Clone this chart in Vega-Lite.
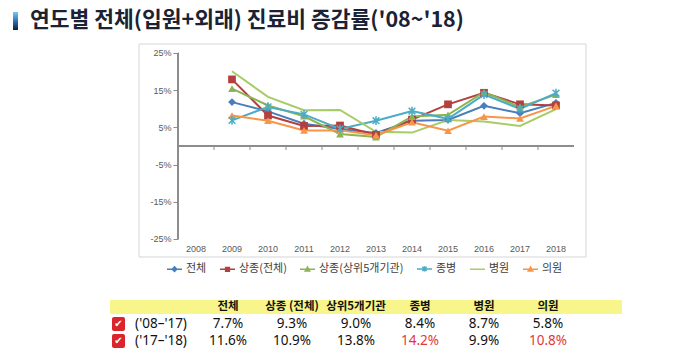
{
  "$schema": "https://vega.github.io/schema/vega-lite/v6.json",
  "width": 680,
  "height": 359,
  "autosize": "none",
  "padding": 0,
  "background": "white",
  "config": {
    "view": {"stroke": null},
    "font": "Noto Sans CJK KR",
    "axis": {"grid": false}
  },
  "resolve": {"scale": {"x": "independent", "y": "independent"}, "axis": {"x": "independent", "y": "independent"}},
  "layer": [
    {
      "data": {"values": [{"k": "header"}]},
      "mark": {"type": "rect", "color": "#f8f58a"},
      "encoding": {
        "x": {"field": "k", "type": "nominal", "axis": null, "scale": {"type": "band", "domain": ["header"], "paddingInner": 0, "paddingOuter": 0, "range": [110, 622]}},
        "y": {"field": "k", "type": "nominal", "axis": null, "scale": {"type": "band", "domain": ["header"], "paddingInner": 0, "paddingOuter": 0, "range": [300, 314]}}
      }
    },
    {
      "data": {"values": [{"k": "frame"}]},
      "mark": {"type": "rect", "filled": false, "color": "#d6d6d6", "strokeWidth": 1},
      "encoding": {
        "x": {"field": "k", "type": "nominal", "axis": null, "scale": {"type": "band", "domain": ["frame"], "paddingInner": 0, "paddingOuter": 0, "range": [139, 586]}},
        "y": {"field": "k", "type": "nominal", "axis": null, "scale": {"type": "band", "domain": ["frame"], "paddingInner": 0, "paddingOuter": 0, "range": [44, 257]}}
      }
    },
    {
      "data": {"values": [{"row": "('08–'17)"}, {"row": "('17–'18)"}]},
      "layer": [
        {
          "mark": {"type": "rect", "color": "#d9252b", "cornerRadius": 2},
          "encoding": {
            "x": {"datum": "icon", "type": "nominal", "axis": null, "scale": {"type": "band", "domain": ["icon"], "paddingInner": 0, "paddingOuter": 0, "range": [112, 125]}},
            "y": {"field": "row", "type": "nominal", "axis": null, "scale": {"type": "band", "domain": ["header", "('08–'17)", "('17–'18)"], "paddingInner": 0.18, "paddingOuter": 0, "range": [300, 347.9]}}
          }
        },
        {
          "mark": {"type": "text", "font": "DejaVu Sans", "fontSize": 10, "fontWeight": "bold", "color": "#ffffff", "text": "✔"},
          "encoding": {
            "x": {"datum": "icon", "type": "nominal", "axis": null},
            "y": {"field": "row", "type": "nominal", "axis": null}
          }
        }
      ]
    },
    {
      "data": {"values": [{"k": "bar", "title": "연도별 전체(입원+외래) 진료비 증감률('08~'18)"}]},
      "layer": [
        {
          "mark": {"type": "rect", "color": {"gradient": "linear", "x1": 0, "y1": 0, "x2": 0, "y2": 1, "stops": [{"offset": 0, "color": "#79c9f2"}, {"offset": 0.5, "color": "#2f73b5"}, {"offset": 1, "color": "#0c1d3e"}]}},
          "encoding": {
            "x": {"field": "k", "type": "nominal", "axis": null, "scale": {"type": "band", "domain": ["bar", "title"], "paddingInner": 0.70588, "paddingOuter": 0, "range": [13, 35]}},
            "y": {"field": "k", "type": "nominal", "axis": null, "scale": {"type": "band", "domain": ["bar"], "paddingInner": 0, "paddingOuter": 0, "range": [12, 30]}}
          }
        },
        {
          "mark": {"type": "text", "align": "left", "baseline": "middle", "font": "Noto Sans CJK KR", "fontSize": 21.5, "fontWeight": "bold", "color": "#1b2233"},
          "encoding": {
            "x": {"datum": "title", "type": "nominal", "bandPosition": 0, "axis": null},
            "y": {"datum": "bar", "type": "nominal", "axis": null},
            "text": {"field": "title"}
          }
        }
      ]
    },
    {
      "data": {"values": [
        {"year": "2009", "series": "전체", "value": 11.8},
        {"year": "2010", "series": "전체", "value": 9.3},
        {"year": "2011", "series": "전체", "value": 6.0},
        {"year": "2012", "series": "전체", "value": 4.6},
        {"year": "2013", "series": "전체", "value": 3.5},
        {"year": "2014", "series": "전체", "value": 6.8},
        {"year": "2015", "series": "전체", "value": 7.0},
        {"year": "2016", "series": "전체", "value": 10.8},
        {"year": "2017", "series": "전체", "value": 8.8},
        {"year": "2018", "series": "전체", "value": 11.6},
        {"year": "2009", "series": "상종(전체)", "value": 17.9},
        {"year": "2010", "series": "상종(전체)", "value": 8.2},
        {"year": "2011", "series": "상종(전체)", "value": 5.4},
        {"year": "2012", "series": "상종(전체)", "value": 5.5},
        {"year": "2013", "series": "상종(전체)", "value": 3.0},
        {"year": "2014", "series": "상종(전체)", "value": 7.1},
        {"year": "2015", "series": "상종(전체)", "value": 11.2},
        {"year": "2016", "series": "상종(전체)", "value": 14.3},
        {"year": "2017", "series": "상종(전체)", "value": 11.2},
        {"year": "2018", "series": "상종(전체)", "value": 10.9},
        {"year": "2009", "series": "상종(상위5개기관)", "value": 15.4},
        {"year": "2010", "series": "상종(상위5개기관)", "value": 10.9},
        {"year": "2011", "series": "상종(상위5개기관)", "value": 8.0},
        {"year": "2012", "series": "상종(상위5개기관)", "value": 3.2},
        {"year": "2013", "series": "상종(상위5개기관)", "value": 2.4},
        {"year": "2014", "series": "상종(상위5개기관)", "value": 7.9},
        {"year": "2015", "series": "상종(상위5개기관)", "value": 8.4},
        {"year": "2016", "series": "상종(상위5개기관)", "value": 14.5},
        {"year": "2017", "series": "상종(상위5개기관)", "value": 10.5},
        {"year": "2018", "series": "상종(상위5개기관)", "value": 13.8},
        {"year": "2009", "series": "종병", "value": 6.9},
        {"year": "2010", "series": "종병", "value": 10.5},
        {"year": "2011", "series": "종병", "value": 8.5},
        {"year": "2012", "series": "종병", "value": 4.6},
        {"year": "2013", "series": "종병", "value": 6.8},
        {"year": "2014", "series": "종병", "value": 9.4},
        {"year": "2015", "series": "종병", "value": 7.3},
        {"year": "2016", "series": "종병", "value": 13.8},
        {"year": "2017", "series": "종병", "value": 10.0},
        {"year": "2018", "series": "종병", "value": 14.2},
        {"year": "2009", "series": "병원", "value": 20.1},
        {"year": "2010", "series": "병원", "value": 13.2},
        {"year": "2011", "series": "병원", "value": 9.6},
        {"year": "2012", "series": "병원", "value": 9.7},
        {"year": "2013", "series": "병원", "value": 3.8},
        {"year": "2014", "series": "병원", "value": 3.6},
        {"year": "2015", "series": "병원", "value": 7.0},
        {"year": "2016", "series": "병원", "value": 6.6},
        {"year": "2017", "series": "병원", "value": 5.4},
        {"year": "2018", "series": "병원", "value": 9.9},
        {"year": "2009", "series": "의원", "value": 8.2},
        {"year": "2010", "series": "의원", "value": 6.8},
        {"year": "2011", "series": "의원", "value": 4.2},
        {"year": "2012", "series": "의원", "value": 4.2},
        {"year": "2013", "series": "의원", "value": 2.9},
        {"year": "2014", "series": "의원", "value": 6.4},
        {"year": "2015", "series": "의원", "value": 4.1},
        {"year": "2016", "series": "의원", "value": 7.9},
        {"year": "2017", "series": "의원", "value": 7.4},
        {"year": "2018", "series": "의원", "value": 10.8}
      ]},
      "layer": [
        {
          "mark": {"type": "line", "strokeWidth": 2},
          "encoding": {
            "x": {"field": "year", "type": "ordinal",
                  "scale": {"type": "band", "domain": ["2008","2009","2010","2011","2012","2013","2014","2015","2016","2017","2018"], "paddingInner": 0, "paddingOuter": 0, "range": [178, 574]},
                  "axis": {"title": null, "domain": false, "ticks": false, "labelAngle": 0, "labelFont": "Liberation Sans", "labelFontSize": 9, "labelColor": "#595959", "labelPadding": 1, "offset": -116}},
            "y": {"field": "value", "type": "quantitative",
                  "scale": {"domain": [-57.258, 39.247], "nice": false, "zero": false},
                  "axis": {"title": null, "domain": false, "ticks": true, "tickSize": 5, "tickColor": "#8c8c8c", "values": [-25, -15, -5, 5, 15, 25], "labelExpr": "datum.value + '%'", "labelFont": "Liberation Sans", "labelFontSize": 9, "labelColor": "#595959", "labelPadding": 2, "offset": -178}},
            "color": {"field": "series", "type": "nominal", "legend": null,
                      "scale": {"domain": ["의원","병원","종병","상종(상위5개기관)","상종(전체)","전체"], "range": ["#f79646","#a8cb66","#4bacc6","#8bb453","#b3403f","#4a7ebb"]}}
          }
        },
        {
          "mark": {"type": "rule", "color": "#8c8c8c", "strokeWidth": 1},
          "encoding": {
            "x": {"datum": "2008", "type": "ordinal", "bandPosition": 0},
            "y": {"datum": -25, "type": "quantitative"},
            "y2": {"datum": 25}
          }
        },
        {
          "mark": {"type": "rule", "color": "#8c8c8c", "strokeWidth": 1},
          "encoding": {
            "x": {"datum": "2008", "type": "ordinal", "bandPosition": 0},
            "x2": {"datum": "2018", "bandPosition": 1},
            "y": {"datum": 0, "type": "quantitative"}
          }
        },
        {
          "transform": [{"filter": "datum.series === '전체'"}],
          "mark": {"type": "rule", "color": "#8c8c8c", "strokeWidth": 1},
          "encoding": {
            "x": {"field": "year", "type": "ordinal", "bandPosition": 0},
            "y": {"datum": 0, "type": "quantitative"},
            "y2": {"datum": -1.1}
          }
        },
        {
          "transform": [{"filter": "datum.series !== '종병' && datum.series !== '병원'"}],
          "mark": {"type": "point", "filled": true, "opacity": 1, "size": 60},
          "encoding": {
            "x": {"field": "year", "type": "ordinal"},
            "y": {"field": "value", "type": "quantitative"},
            "color": {"field": "series", "type": "nominal", "legend": null},
            "shape": {"condition": [{"test": "datum.series === '전체'", "value": "diamond"}, {"test": "datum.series === '상종(전체)'", "value": "square"}], "value": "triangle-up"}
          }
        },
        {
          "transform": [{"filter": "datum.series === '종병'"}],
          "mark": {"type": "point", "filled": false, "opacity": 1, "size": 45, "strokeWidth": 1.5, "shape": "M-1,-1L1,1M-1,1L1,-1M0,-1.3V1.3"},
          "encoding": {
            "x": {"field": "year", "type": "ordinal"},
            "y": {"field": "value", "type": "quantitative"},
            "color": {"field": "series", "type": "nominal", "legend": null}
          }
        },
        {
          "transform": [{"filter": "datum.year === '2009'"}],
          "mark": {"type": "point", "filled": true, "opacity": 0},
          "encoding": {
            "x": {"field": "year", "type": "ordinal"},
            "y": {"field": "value", "type": "quantitative"},
            "shape": {"field": "series", "type": "nominal",
                      "scale": {"domain": ["전체","상종(전체)","상종(상위5개기관)","종병","병원","의원"],
                                "range": ["M-1,0H1M0,-0.3L0.3,0L0,0.3L-0.3,0Z", "M-1,0H1M-0.25,-0.25H0.25V0.25H-0.25Z", "M-1,0H1M0,-0.3L0.3,0.22H-0.3Z", "M-1,0H1M-0.28,-0.28L0.28,0.28M-0.28,0.28L0.28,-0.28M0,-0.36V0.36", "M-1,0H1", "M-1,0H1M0,-0.3L0.3,0.22H-0.3Z"]},
                      "legend": {"title": null, "orient": "none", "legendX": 166, "legendY": 260, "direction": "horizontal", "columns": 6, "columnPadding": 10, "symbolSize": 225, "symbolStrokeWidth": 1.5, "symbolOpacity": 1, "labelFont": "Noto Sans CJK KR", "labelFontSize": 11, "labelColor": "#404040", "labelOffset": 3}},
            "fill": {"field": "series", "type": "nominal",
                     "scale": {"domain": ["전체","상종(전체)","상종(상위5개기관)","종병","병원","의원"], "range": ["#4a7ebb","#b3403f","#8bb453","#4bacc6","#a8cb66","#f79646"]},
                     "legend": {"title": null, "orient": "none", "legendX": 166, "legendY": 260, "direction": "horizontal", "columns": 6, "columnPadding": 10, "symbolSize": 225, "symbolStrokeWidth": 1.5, "symbolOpacity": 1, "labelFont": "Noto Sans CJK KR", "labelFontSize": 11, "labelColor": "#404040", "labelOffset": 3}},
            "stroke": {"field": "series", "type": "nominal",
                       "scale": {"domain": ["전체","상종(전체)","상종(상위5개기관)","종병","병원","의원"], "range": ["#4a7ebb","#b3403f","#8bb453","#4bacc6","#a8cb66","#f79646"]},
                       "legend": {"title": null, "orient": "none", "legendX": 166, "legendY": 260, "direction": "horizontal", "columns": 6, "columnPadding": 10, "symbolSize": 225, "symbolStrokeWidth": 1.5, "symbolOpacity": 1, "labelFont": "Noto Sans CJK KR", "labelFontSize": 11, "labelColor": "#404040", "labelOffset": 3}}
          }
        }
      ]
    },
    {
      "layer": [
        {
          "data": {"values": [{"col": "전체"}, {"col": "상종 (전체)"}, {"col": "상위5개기관"}, {"col": "종병"}, {"col": "병원"}, {"col": "의원"}]},
          "mark": {"type": "text", "font": "Noto Sans CJK KR", "fontSize": 11.5, "fontWeight": "bold", "color": "#111111"},
          "encoding": {
            "x": {"field": "col", "type": "nominal", "axis": null,
                  "scale": {"type": "point", "domain": ["lbl", "전체", "상종 (전체)", "상위5개기관", "종병", "병원", "의원"], "padding": 0, "range": [164, 548]}},
            "y": {"datum": "header", "type": "nominal", "axis": null,
                  "scale": {"type": "band", "domain": ["header", "('08–'17)", "('17–'18)"], "paddingInner": 0.18, "paddingOuter": 0, "range": [300, 347.9]}},
            "text": {"field": "col"}
          }
        },
        {
          "data": {"values": [
            {"row": "('08–'17)", "col": "전체", "value": 0.077},
            {"row": "('08–'17)", "col": "상종 (전체)", "value": 0.093},
            {"row": "('08–'17)", "col": "상위5개기관", "value": 0.090},
            {"row": "('08–'17)", "col": "종병", "value": 0.084},
            {"row": "('08–'17)", "col": "병원", "value": 0.087},
            {"row": "('08–'17)", "col": "의원", "value": 0.058},
            {"row": "('17–'18)", "col": "전체", "value": 0.116},
            {"row": "('17–'18)", "col": "상종 (전체)", "value": 0.109},
            {"row": "('17–'18)", "col": "상위5개기관", "value": 0.138},
            {"row": "('17–'18)", "col": "종병", "value": 0.142},
            {"row": "('17–'18)", "col": "병원", "value": 0.099},
            {"row": "('17–'18)", "col": "의원", "value": 0.108}
          ]},
          "mark": {"type": "text", "font": "Noto Sans", "fontSize": 13.5},
          "encoding": {
            "x": {"field": "col", "type": "nominal", "axis": null},
            "y": {"field": "row", "type": "nominal", "axis": null},
            "text": {"field": "value", "type": "quantitative", "format": ".1%"},
            "color": {"condition": {"test": "datum.value === 0.142 || datum.value === 0.108", "value": "#e2383c"}, "value": "#111111"}
          }
        },
        {
          "data": {"values": [{"row": "('08–'17)"}, {"row": "('17–'18)"}]},
          "mark": {"type": "text", "font": "Noto Sans", "fontSize": 13.5, "color": "#111111", "dx": -3},
          "encoding": {
            "x": {"datum": "lbl", "type": "nominal", "axis": null},
            "y": {"field": "row", "type": "nominal", "axis": null},
            "text": {"field": "row"}
          }
        }
      ]
    }
  ]
}
